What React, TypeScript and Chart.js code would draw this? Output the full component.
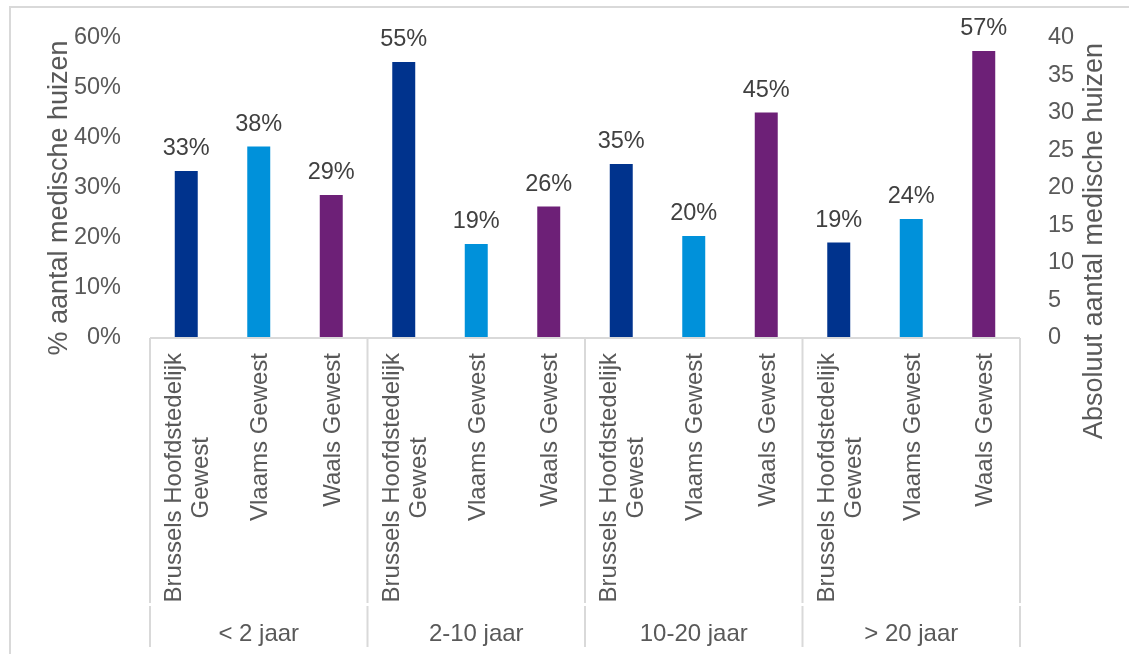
import React, { useEffect, useRef } from "react";
import { Chart, registerables } from "chart.js";

Chart.register(...registerables);

const groups: string[] = ["< 2 jaar", "2-10 jaar", "10-20 jaar", "> 20 jaar"];
const regionLabels: string[][] = [["Brussels Hoofdstedelijk", "Gewest"], ["Vlaams Gewest"], ["Waals Gewest"]];
const regionColors: string[] = ["#00338D", "#0091DA", "#6D2077"];
const values: number[] = [33.4, 38.3, 28.6, 55.2, 18.8, 26.3, 34.8, 20.4, 45.1, 19.1, 23.8, 57.4];
const leftTicks = { min: 0, max: 60, step: 10 };
const rightTicks = { min: 0, max: 40, step: 5 };
const leftTitle = "% aantal medische huizen";
const rightTitle = "Absoluut aantal medische huizen";

const FONT = "'Liberation Sans', Arial, sans-serif";
const GRAY = "#595959";
const LINE = "#d9d9d9";

const categories: string[] = [];
groups.forEach((g) => regionLabels.forEach((r) => categories.push(g + " | " + r.join(" "))));
const barColors = values.map((_, i) => regionColors[i % regionColors.length]);

const overlay = {
  id: "overlay",
  beforeDraw(chart: any) {
    const ctx = chart.ctx;
    ctx.save();
    ctx.strokeStyle = LINE;
    ctx.lineWidth = 2;
    ctx.strokeRect(10, 7, 1125, 660);
    ctx.restore();
  },
  afterDraw(chart: any) {
    const ctx = chart.ctx;
    const xs = chart.scales.x;
    const ys = chart.scales.y;
    const area = chart.chartArea;
    const y0 = ys.getPixelForValue(0);
    const cw = xs.getPixelForValue(1) - xs.getPixelForValue(0);
    ctx.save();

    // axis line
    ctx.strokeStyle = LINE;
    ctx.lineWidth = 2;
    ctx.beginPath();
    ctx.moveTo(area.left, y0);
    ctx.lineTo(area.right, y0);
    ctx.stroke();

    // group separators
    const n = regionLabels.length;
    const bounds: number[] = [];
    for (let g = 0; g <= groups.length; g++) {
      bounds.push(xs.getPixelForValue(g * n) - cw / 2);
    }
    bounds.forEach((bx) => {
      ctx.beginPath();
      ctx.moveTo(bx, y0);
      ctx.lineTo(bx, 603);
      ctx.moveTo(bx, 606);
      ctx.lineTo(bx, 647);
      ctx.stroke();
    });

    // data labels
    const meta = chart.getDatasetMeta(0);
    ctx.fillStyle = "#404040";
    ctx.font = `23.5px ${FONT}`;
    ctx.textAlign = "center";
    ctx.textBaseline = "alphabetic";
    meta.data.forEach((el: any, i: number) => {
      ctx.fillText(Math.round(values[i]) + "%", el.x, el.y - 16);
    });

    // category labels (rotated)
    ctx.fillStyle = GRAY;
    ctx.font = `24px ${FONT}`;
    const capH = 24 * 0.716;
    const lh = 27;
    for (let i = 0; i < categories.length; i++) {
      const lines = regionLabels[i % n];
      const cx = xs.getPixelForValue(i);
      const maxW = Math.max(...lines.map((l) => ctx.measureText(l).width));
      const cy = y0 + 15 + maxW / 2;
      lines.forEach((line, k) => {
        const bx = cx + capH / 2 + (k - (lines.length - 1) / 2) * lh;
        ctx.save();
        ctx.translate(bx, cy);
        ctx.rotate(-Math.PI / 2);
        ctx.textAlign = "center";
        ctx.fillText(line, 0, 0);
        ctx.restore();
      });
    }

    // group labels
    ctx.font = `24px ${FONT}`;
    ctx.textAlign = "center";
    groups.forEach((g, k) => {
      ctx.fillText(g, (bounds[k] + bounds[k + 1]) / 2, 641);
    });

    // axis titles
    ctx.font = `27px ${FONT}`;
    ctx.save();
    ctx.translate(67, 198);
    ctx.rotate(-Math.PI / 2);
    ctx.fillText(leftTitle, 0, 0);
    ctx.restore();
    ctx.save();
    ctx.translate(1102, 241);
    ctx.rotate(-Math.PI / 2);
    ctx.fillText(rightTitle, 0, 0);
    ctx.restore();

    ctx.restore();
  },
};

export default function App() {
  const ref = useRef<HTMLCanvasElement | null>(null);
  useEffect(() => {
    if (!ref.current) return;
    const chart = new Chart(ref.current, {
      type: "bar",
      data: {
        labels: categories,
        datasets: [
          {
            data: values,
            backgroundColor: barColors,
            borderWidth: 0,
            barPercentage: 0.317,
            categoryPercentage: 1,
          },
        ],
      },
      options: {
        animation: false,
        responsive: false,
        layout: { padding: { top: 38, left: 0, right: 0, bottom: 0 } },
        plugins: { legend: { display: false }, tooltip: { enabled: false }, title: { display: false } },
        scales: {
          x: {
            type: "category",
            grid: { display: false },
            border: { display: false },
            ticks: { display: false },
            afterFit: (s: any) => {
              s.height = 316;
            },
          },
          y: {
            position: "left",
            min: leftTicks.min,
            max: leftTicks.max,
            grid: { display: false },
            border: { display: false },
            ticks: {
              stepSize: leftTicks.step,
              padding: 21,
              color: GRAY,
              font: { family: FONT, size: 23.5 },
              callback: (v: any) => v + "%",
            },
            afterFit: (s: any) => {
              s.width = 150;
            },
          },
          y1: {
            position: "right",
            min: rightTicks.min,
            max: rightTicks.max,
            grid: { display: false },
            border: { display: false },
            ticks: {
              stepSize: rightTicks.step,
              padding: 20,
              color: GRAY,
              font: { family: FONT, size: 23.5 },
            },
            afterFit: (s: any) => {
              s.width = 109;
            },
          },
        },
      },
      plugins: [overlay],
    });
    return () => chart.destroy();
  }, []);
  return (
    <div style={{ position: "fixed", left: 0, top: 0, width: 1129, height: 654, background: "#fff" }}>
      <canvas ref={ref} width={1129} height={654} style={{ display: "block" }} />
    </div>
  );
}
